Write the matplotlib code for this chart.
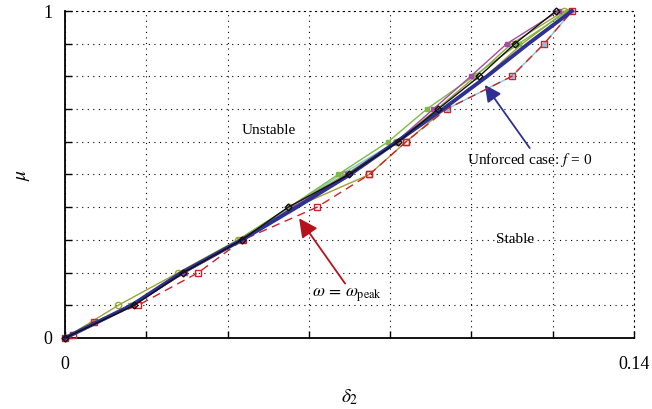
"""
Stability boundary mu vs delta_2 for several forcing cases.
"""
import matplotlib
matplotlib.use("Agg")
import matplotlib.pyplot as plt

plt.rcParams.update({
    "font.family": ["Liberation Serif", "DejaVu Serif"],
    "mathtext.fontset": "stix",
    "font.size": 13,
})

# ---------------------------------------------------------------------------
# Data, mu levels shared by most curves
# ---------------------------------------------------------------------------
mu = [0.0, 0.1, 0.2, 0.3, 0.4, 0.5, 0.6, 0.7, 0.8, 0.9, 1.0]

d_unforced = [0, 0.0164, 0.0287, 0.0435, 0.0570, 0.0701, 0.0816, 0.0930, 0.1038, 0.1140, 0.1247]
d_black    = [0, 0.0170, 0.0291, 0.0435, 0.0549, 0.0699, 0.0820, 0.0918, 0.1019, 0.1107, 0.1208]
d_olive    = [0, 0.0131, 0.0279, 0.0425, 0.0552, 0.0690, 0.0815, 0.0915, 0.1010, 0.1099, 0.1228]
d_green    = [0, 0.0160, 0.0290, 0.0428, 0.0552, 0.0672, 0.0795, 0.0890, 0.1005, 0.1116, 0.1238]
d_magenta  = [0, 0.0165, 0.0295, 0.0437, 0.0560, 0.0695, 0.0815, 0.0906, 0.0998, 0.1087, 0.1215]
d_cyan     = [0, 0.0160, 0.0285, 0.0430, 0.0555, 0.0679, 0.0815, 0.0939, 0.1099, 0.1179, 0.1248]
d_yellow   = [0, 0.0165, 0.0295, 0.0437, 0.0566, 0.0749, 0.0839, 0.0935, 0.1035, 0.1125, 0.1232]

# peak forcing frequency curve (red dashed), own mu levels
mu_peak = [0.0, 0.009, 0.05, 0.1, 0.2, 0.3, 0.4, 0.5, 0.6, 0.7, 0.8, 0.9, 1.0]
d_peak  = [0, 0.0020, 0.0071, 0.0180, 0.0328, 0.0437, 0.0620, 0.0749, 0.0839, 0.0939, 0.1099, 0.1179, 0.1248]

x_ticks = [0, 0.02, 0.04, 0.06, 0.08, 0.10, 0.12, 0.14]
x_ticklabels = ["0", "", "", "", "", "", "", "0.14"]
y_ticks = [0, 0.1, 0.2, 0.3, 0.4, 0.5, 0.6, 0.7, 0.8, 0.9, 1.0]
y_ticklabels = ["0"] + [""] * 9 + ["1"]

NAVY = "#2e3192"
RED = "#cc2229"
DOT = (0, (1, 4))

fig = plt.figure(figsize=(6.52, 4.09), dpi=100)
ax = fig.add_axes([0.0997, 0.1736, 0.8727, 0.7995])

ax.plot(d_cyan, mu, color="#7fc8e0", lw=1.0, marker="o", ms=2.5, clip_on=False, zorder=3)
ax.plot(d_peak, mu_peak, color=RED, lw=1.0, ls=(0, (6, 4)), marker="s", ms=4.5,
        mfc="none", mec=RED, mew=1.0, clip_on=False, zorder=4)
ax.plot(d_yellow, mu, color="#a59d32", lw=1.0, marker="s", ms=4.5, mfc="none",
        mec=RED, mew=1.0, markevery=[5, 6], clip_on=False, zorder=3)
ax.plot(d_olive, mu, color="#9aa53a", lw=1.0, marker="o", ms=4.5, mfc="none",
        mec="#9aa53a", mew=1.0, clip_on=False, zorder=3)
ax.plot(d_green, mu, color="#7dbb42", lw=1.0, marker="s", ms=3, mfc="#7dbb42",
        mec="#7dbb42", clip_on=False, zorder=3)
ax.plot(d_magenta, mu, color="#a64ca6", lw=1.0, marker="s", ms=2.5, clip_on=False, zorder=3)
ax.plot(d_unforced, mu, color=NAVY, lw=2.8, clip_on=False, zorder=5)
ax.plot(d_black, mu, color="#111111", lw=1.0, marker="D", ms=3.5, mfc="none",
        mec="#111111", mew=1.0, clip_on=False, zorder=6)

ax.set_xlim(0, 0.14)
ax.set_ylim(0, 1)
ax.set_xticks(x_ticks)
ax.set_xticklabels(x_ticklabels)
ax.set_yticks(y_ticks)
ax.set_yticklabels(y_ticklabels)
ax.tick_params(direction="in", length=5, width=1.0, color="black")
ax.tick_params(axis="x", pad=13)
ax.tick_params(axis="y", pad=9)
ax.grid(True, color="black", lw=0.8, ls=DOT)

for side in ("left", "bottom"):
    ax.spines[side].set_linewidth(1.3)
for side in ("top", "right"):
    ax.spines[side].set_linestyle(DOT)
    ax.spines[side].set_linewidth(0.8)

ax.set_xlabel(r"$\delta_2$", fontsize=14, labelpad=10)
ax.set_ylabel(r"$\mu$", fontsize=14, rotation=90, labelpad=8)

# region labels
ax.text(0.0435, 0.635, "Unstable", fontsize=11, ha="left", va="center")
ax.text(0.1060, 0.300, "Stable", fontsize=11, ha="left", va="center")

# annotations with arrows
ax.annotate("Unforced case: $f$ = 0", xy=(0.1033, 0.774), xytext=(0.0988, 0.545),
            fontsize=11, ha="left", va="center",
            arrowprops=dict(arrowstyle="-|>,head_length=0.9,head_width=0.45",
                            color=NAVY, lw=1.3, shrinkA=0, shrinkB=0,
                            relpos=(0.52, 1.0)))
ax.annotate(r"$\omega\,=\,\omega_{\rm peak}$", xy=(0.0576, 0.366), xytext=(0.0694, 0.131),
            fontsize=12.5, ha="center", va="center",
            arrowprops=dict(arrowstyle="-|>,head_length=0.9,head_width=0.45",
                            color="#b5121b", lw=1.3, shrinkA=0, shrinkB=0,
                            relpos=(0.5, 1.0)))

fig.savefig("out.png", dpi=100)
